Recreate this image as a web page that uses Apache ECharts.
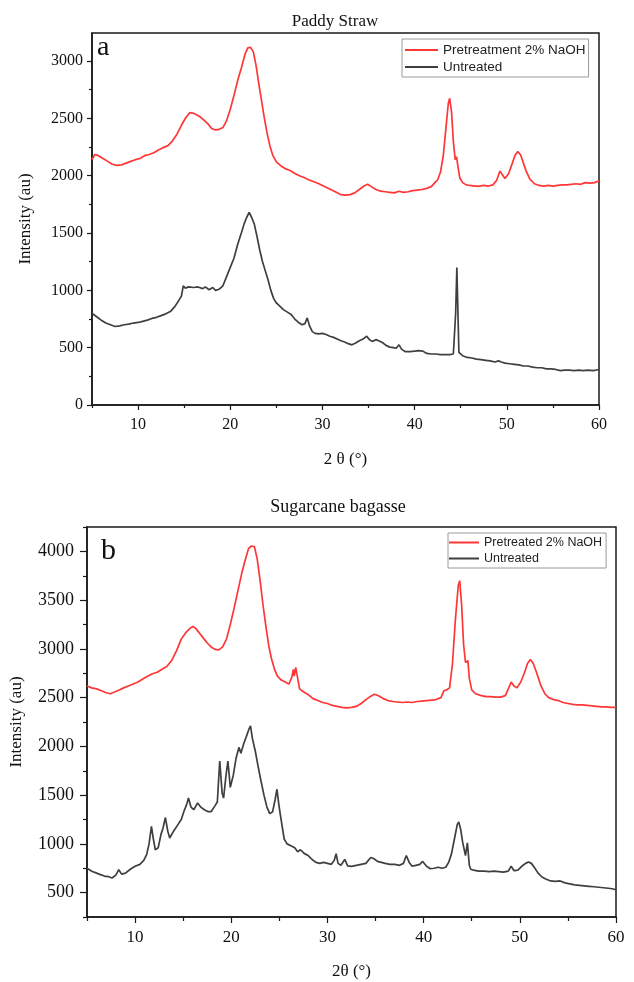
<!DOCTYPE html>
<html>
<head>
<meta charset="utf-8">
<script src="https://cdn.jsdelivr.net/npm/echarts@6/dist/echarts.min.js"></script>
<style>html,body{margin:0;padding:0;background:#fff}#c{width:634px;height:982px}</style>
</head>
<body>
<div id="c"></div>
<script>
// ---------- Paddy Straw (a) ----------
const psPreX = [5.0,5.3,5.7,6.2,6.7,7.2,7.7,8.2,8.7,9.2,9.7,10.2,10.7,11.2,11.7,12.2,12.7,13.2,13.7,14.2,14.7,15.2,15.6,16.0,16.4,16.8,17.2,17.6,18.0,18.4,18.8,19.2,19.6,20.0,20.4,20.8,21.2,21.6,21.9,22.2,22.5,22.8,23.1,23.4,23.7,24.0,24.3,24.6,25.0,25.5,26.0,26.5,27.0,27.5,28.0,28.5,29.0,29.5,30.0,30.5,31.0,31.5,32.0,32.5,33.0,33.5,34.0,34.5,34.9,35.3,35.8,36.3,36.8,37.3,37.8,38.3,38.8,39.3,39.8,40.3,40.8,41.3,41.8,42.2,42.5,42.8,43.1,43.4,43.65,43.8,44.0,44.2,44.4,44.55,44.7,44.9,45.2,45.6,46.0,46.5,47.0,47.5,48.0,48.5,48.9,49.25,49.5,49.8,50.2,50.6,50.9,51.2,51.5,51.8,52.1,52.5,53.0,53.5,54.0,54.5,55.0,55.5,56.0,56.5,57.0,57.5,58.0,58.5,59.0,59.5,60.0];
const psPreY = [2140,2185,2175,2150,2125,2100,2090,2095,2110,2125,2140,2150,2175,2185,2200,2225,2245,2260,2300,2360,2440,2510,2550,2545,2530,2510,2480,2450,2410,2400,2405,2420,2480,2580,2700,2830,2940,3060,3115,3120,3080,2960,2800,2650,2500,2370,2260,2180,2120,2085,2060,2045,2020,2000,1985,1965,1950,1935,1915,1895,1875,1855,1835,1830,1835,1850,1880,1910,1925,1905,1880,1865,1860,1855,1850,1865,1855,1860,1870,1875,1880,1890,1905,1940,1965,2030,2170,2420,2630,2675,2560,2300,2140,2165,2080,1980,1940,1920,1915,1910,1910,1915,1910,1920,1960,2040,2010,1975,2020,2110,2180,2210,2180,2110,2040,1970,1930,1915,1910,1915,1910,1915,1920,1920,1925,1930,1925,1940,1935,1940,1955];
const psUntX = [5.0,5.5,6.0,6.5,7.0,7.5,8.0,8.5,9.0,9.5,10.0,10.5,11.0,11.5,12.0,12.5,13.0,13.5,14.0,14.4,14.7,14.9,15.1,15.5,16.0,16.5,17.0,17.3,17.7,18.1,18.4,18.8,19.2,19.6,20.0,20.4,20.8,21.2,21.5,21.8,22.05,22.3,22.6,22.9,23.2,23.5,23.8,24.1,24.4,24.7,25.0,25.4,25.8,26.2,26.6,27.0,27.4,27.8,28.1,28.35,28.6,28.9,29.2,29.6,30.0,30.4,30.8,31.2,31.6,32.0,32.4,32.8,33.2,33.6,34.0,34.4,34.8,35.1,35.4,35.8,36.1,36.5,36.9,37.3,37.7,38.0,38.3,38.6,39.0,39.5,40.0,40.4,40.6,40.9,41.3,41.8,42.3,42.8,43.3,43.8,44.2,44.35,44.45,44.58,44.7,44.8,45.2,45.7,46.2,46.7,47.2,47.7,48.2,48.7,49.1,49.4,49.8,50.3,50.8,51.3,51.8,52.3,52.8,53.3,53.8,54.3,54.8,55.3,55.8,56.3,56.8,57.3,57.8,58.3,58.8,59.3,59.7,60.0];
const psUntY = [800,770,740,715,700,685,690,700,705,715,720,730,740,755,765,780,795,815,860,910,950,1040,1020,1030,1025,1030,1015,1030,1005,1025,1000,1010,1040,1120,1200,1280,1400,1500,1580,1640,1680,1640,1580,1470,1350,1250,1170,1090,1000,930,890,860,830,810,790,750,720,700,710,760,690,640,625,620,625,615,600,590,575,560,550,535,525,540,560,575,600,570,555,570,560,545,520,505,500,495,525,485,465,465,470,475,490,470,450,445,445,440,440,440,445,450,800,1200,800,460,430,415,410,400,395,390,385,375,385,375,365,360,355,350,340,340,330,325,325,315,315,310,300,305,305,300,305,300,305,300,305,310];

// ---------- Sugarcane bagasse (b) ----------
const sbPreX = [5.0,5.5,6.0,6.5,7.0,7.4,7.8,8.3,8.8,9.3,9.8,10.3,10.8,11.3,11.8,12.3,12.8,13.3,13.8,14.3,14.8,15.3,15.7,16.0,16.3,16.7,17.1,17.5,17.9,18.3,18.7,19.1,19.5,19.9,20.3,20.7,21.1,21.5,21.8,22.1,22.4,22.7,23.0,23.3,23.6,23.9,24.2,24.5,24.8,25.2,25.6,26.0,26.3,26.45,26.55,26.7,26.9,27.1,27.5,28.0,28.5,29.0,29.5,30.0,30.5,31.0,31.5,32.0,32.5,33.0,33.5,34.0,34.5,34.9,35.3,35.8,36.3,36.8,37.3,37.8,38.3,38.8,39.3,39.8,40.3,40.8,41.3,41.8,42.1,42.4,42.7,43.0,43.3,43.6,43.75,43.95,44.15,44.35,44.5,44.6,44.75,45.0,45.4,46.0,46.5,47.0,47.5,48.0,48.5,48.8,49.1,49.4,49.7,50.1,50.5,50.8,51.1,51.4,51.8,52.2,52.6,53.0,53.5,54.0,54.5,55.0,55.5,56.0,56.5,57.0,57.5,58.0,58.5,59.0,59.5,60.0];
const sbPreY = [2620,2600,2590,2570,2550,2540,2555,2575,2600,2620,2640,2660,2690,2720,2745,2760,2790,2820,2880,2980,3100,3170,3210,3230,3210,3160,3110,3060,3020,2995,2990,3020,3100,3250,3420,3600,3780,3930,4030,4055,4050,3920,3700,3450,3230,3030,2890,2790,2720,2680,2660,2640,2710,2790,2720,2810,2700,2590,2560,2530,2490,2470,2450,2440,2420,2410,2400,2395,2400,2410,2440,2480,2515,2535,2520,2490,2470,2460,2455,2450,2455,2450,2460,2465,2470,2475,2480,2500,2570,2580,2600,2850,3300,3650,3700,3450,3050,2860,2850,2880,2700,2580,2540,2520,2510,2510,2505,2505,2520,2590,2660,2620,2600,2660,2760,2850,2890,2850,2740,2620,2540,2500,2480,2470,2450,2440,2430,2425,2425,2420,2415,2410,2405,2405,2400,2400];
const sbUntX = [5.0,5.5,6.0,6.4,6.8,7.2,7.6,8.0,8.3,8.6,9.0,9.5,10.0,10.5,10.9,11.2,11.45,11.7,11.9,12.1,12.4,12.7,12.9,13.15,13.4,13.6,14.0,14.4,14.8,15.1,15.35,15.55,15.8,16.1,16.5,16.8,17.2,17.6,17.9,18.3,18.55,18.8,19.05,19.2,19.45,19.65,19.9,20.2,20.5,20.8,21.0,21.3,21.6,21.85,22.0,22.2,22.5,22.8,23.1,23.4,23.7,24.0,24.3,24.55,24.75,24.95,25.1,25.25,25.5,25.8,26.2,26.6,26.9,27.2,27.6,28.0,28.4,28.8,29.2,29.6,30.0,30.4,30.7,30.9,31.1,31.4,31.8,32.1,32.5,33.0,33.5,34.0,34.5,34.8,35.2,35.6,36.0,36.5,37.0,37.5,37.9,38.2,38.5,38.8,39.2,39.6,39.9,40.3,40.7,41.1,41.5,41.9,42.3,42.6,42.9,43.2,43.5,43.65,43.85,44.05,44.2,44.35,44.55,44.75,44.9,45.2,45.7,46.3,46.8,47.3,47.8,48.3,48.8,49.1,49.4,49.8,50.2,50.6,50.9,51.2,51.5,51.9,52.3,52.7,53.2,53.7,54.2,54.7,55.2,55.7,56.2,56.7,57.2,57.7,58.2,58.7,59.2,59.6,60.0];
const sbUntY = [750,720,700,685,670,665,650,680,735,690,700,740,770,790,830,890,1000,1180,1050,940,960,1100,1160,1270,1130,1060,1130,1190,1250,1340,1400,1470,1380,1350,1420,1380,1350,1330,1330,1390,1430,1850,1520,1470,1700,1850,1580,1700,1880,1990,1930,2030,2110,2180,2210,2080,1950,1790,1640,1500,1380,1310,1330,1450,1560,1400,1300,1290,1050,1000,980,960,920,940,900,880,840,810,800,810,800,790,830,900,800,780,840,775,770,780,790,800,860,850,820,810,800,790,790,780,800,880,810,770,780,790,820,770,745,750,760,750,760,810,900,1050,1200,1225,1150,1020,950,880,1010,780,740,730,720,720,715,720,715,710,720,770,725,730,770,800,815,800,760,700,660,640,620,615,620,600,590,580,575,570,565,560,555,550,545,540,530];

// ---------- axis ticks ----------
const xLabelVals = [10,20,30,40,50,60];
const xMinorVals = [5,15,25,35,45,55];
const psYLabels = [0,500,1000,1500,2000,2500,3000];
const psYMinor = [250,750,1250,1750,2250,2750,3250];
const sbYLabels = [500,1000,1500,2000,2500,3000,3500,4000];
const sbYMinor = [250,750,1250,1750,2250,2750,3250,3750,4250];

const zip = (xs, ys) => xs.map((x, i) => [x, ys[i]]);
const plain = v => String(v);

const RED = '#ff3636';
const GRAY = '#3f3f3f';
const AX = '#1a1a1a';
const SERIF = '"Liberation Serif","DejaVu Serif",serif';
const SANS = '"Liberation Sans",Arial,sans-serif';

function xMain(grid, nameTxt, fs, gap, tl) {
  return {
    type: 'value', gridIndex: grid, min: 5, max: 60, position: 'bottom',
    name: nameTxt, nameLocation: 'middle', nameGap: gap,
    nameTextStyle: {fontFamily: SERIF, fontSize: 17, color: '#111'},
    axisLine: {show: true, onZero: false, lineStyle: {color: AX, width: 1.5}},
    axisTick: {show: true, inside: false, length: tl, customValues: xLabelVals, lineStyle: {color: AX, width: 1.2}},
    axisLabel: {show: true, customValues: xLabelVals, formatter: plain, margin: 12, fontFamily: SERIF, fontSize: fs, color: '#111'},
    splitLine: {show: false}
  };
}
function xMinor(grid, tl) {
  return {
    type: 'value', gridIndex: grid, min: 5, max: 60, position: 'bottom',
    axisLine: {show: false, onZero: false},
    axisTick: {show: true, length: tl, customValues: xMinorVals, lineStyle: {color: AX, width: 1.2}},
    axisLabel: {show: false}, splitLine: {show: false}
  };
}
function yMain(grid, min, max, labels, fs, gap, margin, tl) {
  return {
    type: 'value', gridIndex: grid, min: min, max: max, position: 'left',
    name: 'Intensity (au)', nameLocation: 'middle', nameGap: gap,
    nameTextStyle: {fontFamily: SERIF, fontSize: 17, color: '#111'},
    axisLine: {show: true, onZero: false, lineStyle: {color: AX, width: 1.5}},
    axisTick: {show: true, length: tl, customValues: labels, lineStyle: {color: AX, width: 1.2}},
    axisLabel: {show: true, customValues: labels, formatter: plain, margin: margin, fontFamily: SERIF, fontSize: fs, color: '#111'},
    splitLine: {show: false}
  };
}
function yMinor(grid, min, max, vals, tl) {
  return {
    type: 'value', gridIndex: grid, min: min, max: max, position: 'left',
    axisLine: {show: false, onZero: false},
    axisTick: {show: true, length: tl, customValues: vals, lineStyle: {color: AX, width: 1.2}},
    axisLabel: {show: false}, splitLine: {show: false}
  };
}
function line(name, xi, yi, data, color) {
  return {
    name: name, type: 'line', xAxisIndex: xi, yAxisIndex: yi, data: data,
    symbol: 'none', showSymbol: false, smooth: false, animation: false,
    lineStyle: {color: color, width: 1.7}, itemStyle: {color: color}
  };
}

const chart = echarts.init(document.getElementById('c'), null, {renderer: 'canvas'});
chart.setOption({
  animation: false,
  backgroundColor: '#fff',
  title: [
    {text: 'Paddy Straw', left: 330, top: 8, textAlign: 'center',
     textStyle: {fontFamily: SERIF, fontSize: 17, fontWeight: 'normal', color: '#111'}},
    {text: 'Sugarcane bagasse', left: 333, top: 493, textAlign: 'center',
     textStyle: {fontFamily: SERIF, fontSize: 18, fontWeight: 'normal', color: '#111'}}
  ],
  graphic: [
    {type: 'text', left: 97, top: 34, style: {text: 'a', font: '28px "Liberation Serif"', fill: '#111'}},
    {type: 'text', left: 101, top: 536, style: {text: 'b', font: '30px "Liberation Serif"', fill: '#111'}}
  ],
  legend: [
    {data: ['Pretreatment 2% NaOH', 'Untreated'], orient: 'vertical', left: 402, top: 39,
     padding: [4, 3, 3, 3], itemGap: 3, itemWidth: 33, itemHeight: 2, icon: 'rect',
     borderColor: '#9a9a9a', borderWidth: 1, selectedMode: false,
     textStyle: {fontFamily: SANS, fontSize: 13.5, color: '#222', lineHeight: 14}},
    {data: ['Pretreated 2% NaOH', 'Untreated'], orient: 'vertical', left: 448, top: 533,
     padding: [3, 4, 3, 1], itemGap: 3, itemWidth: 30, itemHeight: 2, icon: 'rect',
     borderColor: '#9a9a9a', borderWidth: 1, selectedMode: false,
     textStyle: {fontFamily: SANS, fontSize: 12.5, color: '#222', lineHeight: 13}}
  ],
  grid: [
    {left: 92, top: 33, width: 507, height: 372, show: true, borderColor: AX, borderWidth: 1.5, backgroundColor: 'transparent'},
    {left: 85, top: 527, width: 531, height: 390, show: true, borderColor: AX, borderWidth: 1.5, backgroundColor: 'transparent'}
  ],
  xAxis: [
    xMain(0, '2 θ (°)', 16, 46, 5), xMinor(0, 3),
    xMain(1, '2θ (°)', 17, 46, 6), xMinor(1, 4)
  ],
  yAxis: [
    yMain(0, 0, 3245, psYLabels, 16, 58, 9, 5), yMinor(0, 0, 3245, psYMinor, 3),
    yMain(1, 250, 4250, sbYLabels, 18, 62, 13, 7), yMinor(1, 250, 4250, sbYMinor, 4)
  ],
  series: [
    line('Pretreatment 2% NaOH', 0, 0, zip(psPreX, psPreY), RED),
    line('Untreated', 0, 0, zip(psUntX, psUntY), GRAY),
    line('Pretreated 2% NaOH', 2, 2, zip(sbPreX, sbPreY), RED),
    line('Untreated', 2, 2, zip(sbUntX, sbUntY), GRAY)
  ]
});
</script>
</body>
</html>
